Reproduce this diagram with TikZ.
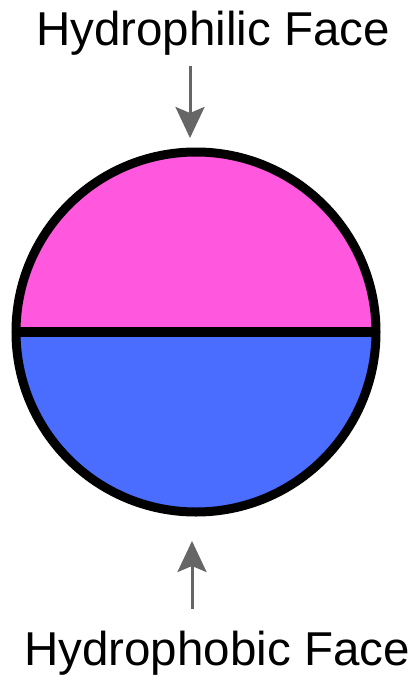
\documentclass[tikz,border=0pt]{standalone}
\usepackage{fontspec}
\setmainfont{Liberation Sans}
\usetikzlibrary{arrows.meta, positioning, calc}

\definecolor{philic}{RGB}{255,87,221}
\definecolor{phobic}{RGB}{74,108,255}
\definecolor{pointer}{RGB}{102,102,102}

\begin{document}
\begin{tikzpicture}[x=1pt, y=-1pt,
    label text/.style={inner sep=0pt, anchor=base, font=\fontsize{47.5}{56}\selectfont},
    pointer arrow/.style={draw=pointer, line width=3pt, -{Stealth[length=31pt, width=29pt, inset=6pt]}}]
    \useasboundingbox[fill=white] (0, 0) rectangle (416, 677);

    % the two faces of the sphere (y runs downwards)
    \coordinate (c) at (196, 332);
    \fill[philic] (16, 332) arc[start angle=180, end angle=360, radius=180] -- cycle;
    \fill[phobic] (16, 332) arc[start angle=180, end angle=0, radius=180] -- cycle;
    \draw[line width=9pt] (c) circle (180);
    \draw[line width=10pt] (16, 332) -- (376, 332);

    % labels
    \node[label text] (philic) at (213, 46) {Hydrophilic Face};
    \node[label text] (phobic) at (217, 665) {Hydrophobic Face};

    % pointers
    \coordinate (top start) at (190, 66);
    \coordinate (top end) at (190, 138);
    \coordinate (bottom start) at (192, 609);
    \coordinate (bottom end) at (192, 541);
    \draw[pointer arrow] (top start) -- (top end);
    \draw[pointer arrow] (bottom start) -- (bottom end);
\end{tikzpicture}
\end{document}
